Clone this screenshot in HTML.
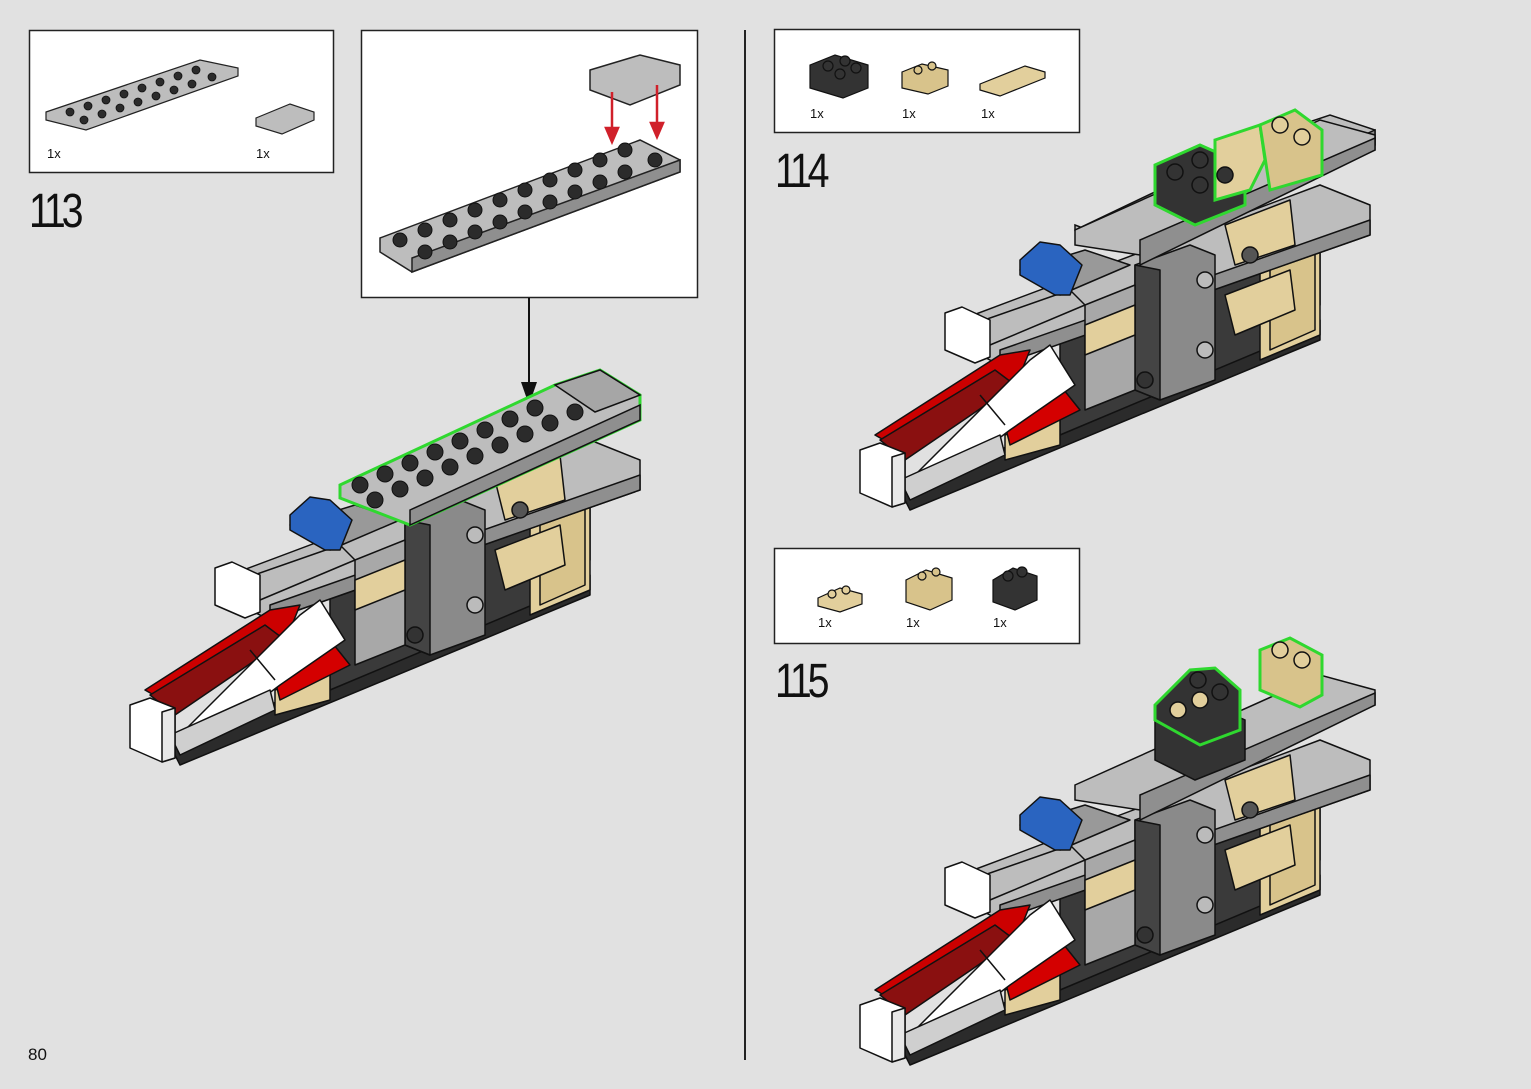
<!DOCTYPE html>
<html><head><meta charset="utf-8"><style>
html,body{margin:0;padding:0;background:#e1e1e1;}
svg{display:block;font-family:"Liberation Sans",sans-serif;}
</style></head><body>
<svg width="1531" height="1089" viewBox="0 0 1531 1089" xmlns="http://www.w3.org/2000/svg">
<rect width="1531" height="1089" fill="#e1e1e1"/>
<defs>
<g id="model" stroke="#111" stroke-width="1.5" stroke-linejoin="round">
  <polygon points="170,745 590,575 590,595 180,765" fill="#2b2b2b"/>
  <polygon points="330,690 580,585 590,560 590,440 330,560" fill="#3a3a3a"/>
  <polygon points="530,470 590,445 590,590 530,615" fill="#e2cf9c"/>
  <polygon points="540,470 585,450 585,585 540,605" fill="#d8c38b"/>
  <polygon points="230,575 590,440 640,460 640,490 270,620 230,600" fill="#bdbdbd"/>
  <polygon points="270,605 640,475 640,490 270,620" fill="#8f8f8f"/>
  <polygon points="495,480 560,455 565,500 505,520" fill="#e2cf9c"/>
  <polygon points="495,550 560,525 565,565 505,590" fill="#e2cf9c"/>
  <polygon points="405,520 460,500 485,510 485,635 430,655 405,645" fill="#8a8a8a"/>
  <polygon points="405,520 430,525 430,655 405,645" fill="#444"/>
  <polygon points="355,560 405,540 405,645 355,665" fill="#a8a8a8"/>
  <polygon points="355,580 405,560 405,590 355,610" fill="#e2cf9c"/>
  <polygon points="275,690 330,670 330,700 275,715" fill="#e2cf9c"/>
  <polygon points="270,660 330,640 350,665 280,700" fill="#d40000"/>
  <polygon points="145,690 270,610 300,605 290,630 180,710" fill="#cc0000"/>
  <polygon points="150,695 265,625 285,640 175,715" fill="#8a1010"/>
  <polygon points="180,735 300,615 320,600 345,640 280,685 200,745" fill="#fff"/>
  <line x1="250" y1="650" x2="275" y2="680"/>
  <polygon points="170,735 270,690 275,710 180,755" fill="#cfcfcf"/>
  <polygon points="130,705 150,698 175,708 175,758 162,762 130,748" fill="#fff"/>
  <polygon points="162,712 175,708 175,758 162,762" fill="#e8e8e8"/>
  <polygon points="240,580 340,545 355,560 260,600" fill="#bdbdbd"/>
  <polygon points="215,568 232,562 260,575 260,612 245,618 215,605" fill="#fff"/>
  <polygon points="290,525 355,505 400,520 330,550" fill="#999"/>
  <polygon points="290,515 310,497 330,500 352,520 340,550 325,550 290,530" fill="#2a64c0"/>
  <circle cx="475" cy="535" r="8" fill="#bbb"/>
  <circle cx="475" cy="605" r="8" fill="#bbb"/>
  <circle cx="520" cy="510" r="8" fill="#555"/>
  <circle cx="415" cy="635" r="8" fill="#333"/>
</g>
</defs>

<rect x="29.5" y="30.5" width="304" height="142" fill="#fff" stroke="#222" stroke-width="1.5"/>
<g stroke="#222" stroke-width="1.2">
<polygon points="46,112 200,60 238,68 238,76 86,130 46,120" fill="#bdbdbd"/>
<polygon points="256,118 290,104 314,112 314,120 282,134 256,126" fill="#bdbdbd"/>
</g>
<g fill="#2b2b2b" stroke="#111" stroke-width="0.8">
<circle cx="70" cy="112" r="4"/><circle cx="88" cy="106" r="4"/><circle cx="106" cy="100" r="4"/><circle cx="124" cy="94" r="4"/><circle cx="142" cy="88" r="4"/><circle cx="160" cy="82" r="4"/><circle cx="178" cy="76" r="4"/><circle cx="196" cy="70" r="4"/>
<circle cx="84" cy="120" r="4"/><circle cx="102" cy="114" r="4"/><circle cx="120" cy="108" r="4"/><circle cx="138" cy="102" r="4"/><circle cx="156" cy="96" r="4"/><circle cx="174" cy="90" r="4"/><circle cx="192" cy="84" r="4"/><circle cx="212" cy="77" r="4"/>
</g>
<text x="47" y="158" font-size="13" fill="#111">1x</text>
<text x="256" y="158" font-size="13" fill="#111">1x</text>
<text transform="translate(29,227) scale(0.82,1)" font-size="48" fill="#111" letter-spacing="-5">113</text>

<rect x="361.5" y="30.5" width="336" height="267" fill="#fff" stroke="#222" stroke-width="1.5"/>
<g stroke="#222" stroke-width="1.5">
<polygon points="380,238 640,140 680,160 680,172 412,272 380,252" fill="#bdbdbd"/>
<polygon points="412,258 680,160 680,172 412,272" fill="#8f8f8f"/>
<polygon points="590,70 640,55 680,65 680,85 630,105 590,90" fill="#bdbdbd"/>
</g>
<g fill="#2b2b2b" stroke="#111">
<circle cx="400" cy="240" r="7"/><circle cx="425" cy="230" r="7"/><circle cx="450" cy="220" r="7"/><circle cx="475" cy="210" r="7"/><circle cx="500" cy="200" r="7"/><circle cx="525" cy="190" r="7"/><circle cx="550" cy="180" r="7"/><circle cx="575" cy="170" r="7"/><circle cx="600" cy="160" r="7"/><circle cx="625" cy="150" r="7"/>
<circle cx="425" cy="252" r="7"/><circle cx="450" cy="242" r="7"/><circle cx="475" cy="232" r="7"/><circle cx="500" cy="222" r="7"/><circle cx="525" cy="212" r="7"/><circle cx="550" cy="202" r="7"/><circle cx="575" cy="192" r="7"/><circle cx="600" cy="182" r="7"/><circle cx="625" cy="172" r="7"/><circle cx="655" cy="160" r="7"/>
</g>
<g stroke="#d0202a" stroke-width="2.5" fill="#d0202a">
<line x1="612" y1="92" x2="612" y2="130"/><polygon points="606,128 618,128 612,142"/>
<line x1="657" y1="85" x2="657" y2="125"/><polygon points="651,123 663,123 657,137"/>
</g>
<line x1="529" y1="298" x2="529" y2="385" stroke="#111" stroke-width="2"/>
<polygon points="521,382 537,382 529,405" fill="#111"/>

<use href="#model"/>
<g stroke="#111" stroke-width="1.5">
<polygon points="340,485 555,385 600,370 640,395 640,420 410,525 340,498" fill="#bdbdbd" stroke="#2fd82f" stroke-width="3"/>
<polygon points="410,510 640,405 640,420 410,525" fill="#8f8f8f"/>
<polygon points="555,385 600,370 640,395 595,412" fill="#a6a6a6"/>
</g>
<g fill="#2b2b2b" stroke="#111">
<circle cx="360" cy="485" r="8"/><circle cx="385" cy="474" r="8"/><circle cx="410" cy="463" r="8"/><circle cx="435" cy="452" r="8"/><circle cx="460" cy="441" r="8"/><circle cx="485" cy="430" r="8"/><circle cx="510" cy="419" r="8"/><circle cx="535" cy="408" r="8"/>
<circle cx="375" cy="500" r="8"/><circle cx="400" cy="489" r="8"/><circle cx="425" cy="478" r="8"/><circle cx="450" cy="467" r="8"/><circle cx="475" cy="456" r="8"/><circle cx="500" cy="445" r="8"/><circle cx="525" cy="434" r="8"/><circle cx="550" cy="423" r="8"/><circle cx="575" cy="412" r="8"/>
</g>

<line x1="745" y1="30" x2="745" y2="1060" stroke="#222" stroke-width="2"/>

<rect x="774.5" y="29.5" width="305" height="103" fill="#fff" stroke="#222" stroke-width="1.5"/>
<g stroke="#111" stroke-width="1.2">
<polygon points="810,65 835,55 868,65 868,88 843,98 810,88" fill="#333"/>
<polygon points="902,72 922,64 948,70 948,86 928,94 902,88" fill="#d8c38b"/>
<polygon points="980,84 1025,66 1045,72 1045,78 1000,96 980,90" fill="#e2cf9c"/>
<circle cx="828" cy="66" r="5" fill="#333"/><circle cx="845" cy="61" r="5" fill="#333"/><circle cx="840" cy="74" r="5" fill="#333"/><circle cx="856" cy="68" r="5" fill="#333"/>
<circle cx="918" cy="70" r="4" fill="#d8c38b"/><circle cx="932" cy="66" r="4" fill="#d8c38b"/>
</g>
<text x="810" y="118" font-size="13" fill="#111">1x</text>
<text x="902" y="118" font-size="13" fill="#111">1x</text>
<text x="981" y="118" font-size="13" fill="#111">1x</text>
<text transform="translate(775,187) scale(0.82,1)" font-size="48" fill="#111" letter-spacing="-5">114</text>

<g transform="translate(730,-255)"><use href="#model"/>
<g stroke="#111" stroke-width="1.5">
<polygon points="345,485 555,385 600,370 645,385 645,400 410,505 345,480" fill="#bdbdbd"/>
<polygon points="410,490 645,385 645,400 410,505" fill="#8f8f8f"/>
</g></g>
<g stroke="#111" stroke-width="1.5">
<polygon points="1075,230 1320,120 1375,135 1375,150 1140,255 1075,245" fill="#bdbdbd"/>
<polygon points="1140,240 1375,138 1375,150 1140,265" fill="#8f8f8f"/>
<polygon points="1155,165 1200,145 1245,165 1245,205 1195,225 1155,205" fill="#333" stroke="#2fd82f" stroke-width="3"/>
<polygon points="1215,140 1260,125 1265,160 1250,190 1215,200" fill="#e2cf9c" stroke="#2fd82f" stroke-width="3"/>
<polygon points="1260,125 1295,110 1322,130 1322,175 1270,190" fill="#d8c38b" stroke="#2fd82f" stroke-width="3"/>
<circle cx="1175" cy="172" r="8" fill="#333"/><circle cx="1200" cy="160" r="8" fill="#333"/><circle cx="1200" cy="185" r="8" fill="#333"/><circle cx="1225" cy="175" r="8" fill="#333"/>
<circle cx="1280" cy="125" r="8" fill="#e2cf9c"/><circle cx="1302" cy="137" r="8" fill="#e2cf9c"/>
</g>

<rect x="774.5" y="548.5" width="305" height="95" fill="#fff" stroke="#222" stroke-width="1.5"/>
<g stroke="#111" stroke-width="1.2">
<polygon points="818,598 840,588 862,594 862,604 840,612 818,606" fill="#e2cf9c"/>
<polygon points="906,580 926,570 952,578 952,600 930,610 906,602" fill="#d8c38b"/>
<polygon points="993,580 1013,568 1037,576 1037,600 1015,610 993,602" fill="#333"/>
<circle cx="832" cy="594" r="4" fill="#e2cf9c"/><circle cx="846" cy="590" r="4" fill="#e2cf9c"/>
<circle cx="922" cy="576" r="4" fill="#d8c38b"/><circle cx="936" cy="572" r="4" fill="#d8c38b"/>
<circle cx="1008" cy="576" r="5" fill="#333"/><circle cx="1022" cy="572" r="5" fill="#333"/>
</g>
<text x="818" y="627" font-size="13" fill="#111">1x</text>
<text x="906" y="627" font-size="13" fill="#111">1x</text>
<text x="993" y="627" font-size="13" fill="#111">1x</text>
<text transform="translate(775,697) scale(0.82,1)" font-size="48" fill="#111" letter-spacing="-5">115</text>

<g transform="translate(730,300)"><use href="#model"/></g>
<g stroke="#111" stroke-width="1.5">
<polygon points="1075,785 1320,675 1375,690 1375,705 1140,810 1075,800" fill="#bdbdbd"/>
<polygon points="1140,795 1375,693 1375,705 1140,820" fill="#8f8f8f"/>
<polygon points="1155,720 1200,700 1245,720 1245,760 1195,780 1155,760" fill="#333"/>
<polygon points="1155,705 1190,670 1215,668 1240,690 1240,730 1200,745 1155,720" fill="#333" stroke="#2fd82f" stroke-width="3"/>
<polygon points="1260,650 1290,638 1322,655 1322,695 1300,707 1260,690" fill="#d8c38b" stroke="#2fd82f" stroke-width="3"/>
<circle cx="1178" cy="710" r="8" fill="#e2cf9c"/><circle cx="1200" cy="700" r="8" fill="#e2cf9c"/>
<circle cx="1198" cy="680" r="8" fill="#333"/><circle cx="1220" cy="692" r="8" fill="#333"/>
<circle cx="1280" cy="650" r="8" fill="#e2cf9c"/><circle cx="1302" cy="660" r="8" fill="#e2cf9c"/>
</g>

<text x="28" y="1060" font-size="17" fill="#111">80</text>
</svg>
</body></html>
